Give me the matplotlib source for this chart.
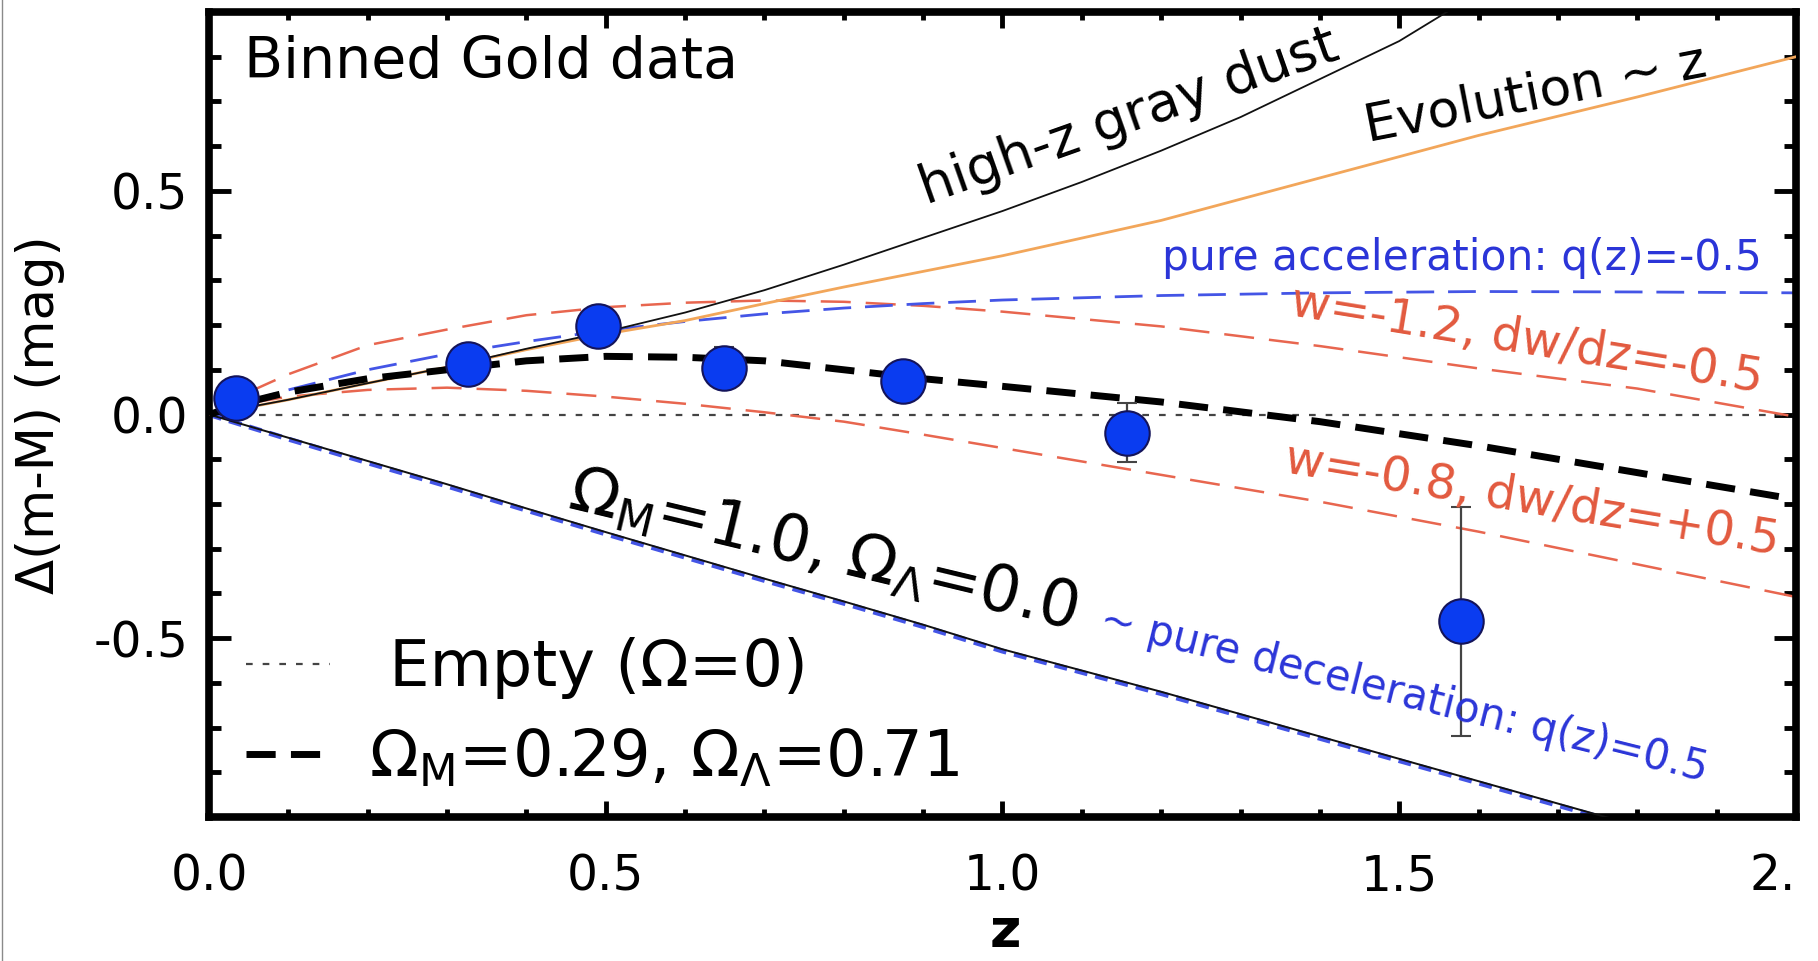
import matplotlib
matplotlib.use('Agg')
import matplotlib.pyplot as plt
from matplotlib.ticker import MultipleLocator, FixedLocator, FixedFormatter
from matplotlib.lines import Line2D

plt.rcParams['font.family'] = ['DejaVu Sans']
plt.rcParams['mathtext.fontset'] = 'dejavusans'

W, H, DPI = 1818, 961, 100

# ---------------- data ----------------
z_bins = [0.034, 0.326, 0.490, 0.649, 0.874, 1.157, 1.578]
dm_bins = [0.037, 0.112, 0.197, 0.105, 0.074, -0.041, -0.462]
dm_err = [0.02, 0.03, 0.03, 0.045, 0.035, 0.066, 0.256]

z_model = [0.0, 0.05, 0.1, 0.2, 0.3, 0.4, 0.5, 0.6, 0.7, 0.8, 0.9, 1.0, 1.2, 1.4, 1.6, 1.8, 2.0]
dm_lcdm = [0.0, 0.028, 0.05, 0.08, 0.10, 0.12, 0.13, 0.128, 0.12, 0.10, 0.08, 0.063, 0.028, -0.016, -0.07, -0.13, -0.19]
dm_accel = [0.0, 0.03, 0.055, 0.10, 0.135, 0.163, 0.188, 0.208, 0.225, 0.238, 0.248, 0.256, 0.266, 0.272, 0.275, 0.274, 0.272]
dm_w12 = [0.0, 0.05, 0.09, 0.155, 0.19, 0.222, 0.24, 0.25, 0.255, 0.252, 0.243, 0.23, 0.197, 0.153, 0.103, 0.058, -0.005]
dm_w08 = [0.0, 0.025, 0.04, 0.055, 0.06, 0.053, 0.04, 0.024, 0.005, -0.016, -0.045, -0.075, -0.135, -0.195, -0.262, -0.335, -0.408]
dm_evol = [0.0, 0.016, 0.033, 0.07, 0.106, 0.145, 0.18, 0.21, 0.248, 0.285, 0.32, 0.355, 0.434, 0.529, 0.624, 0.71, 0.80]

z_empty = [0.0, 2.0]
dm_empty = [0.0, 0.0]

z_dust = [0.0, 0.1, 0.2, 0.3, 0.4, 0.5, 0.6, 0.7, 0.8, 0.9, 1.0, 1.1, 1.2, 1.3, 1.4, 1.5, 1.56, 1.6]
dm_dust = [0.0, 0.033, 0.07, 0.106, 0.147, 0.185, 0.228, 0.278, 0.335, 0.395, 0.455, 0.52, 0.59, 0.665, 0.75, 0.835, 0.9, 0.95]

z_eds = [0.0, 0.1, 0.2, 0.3, 0.4, 0.5, 0.6, 0.7, 0.8, 0.9, 1.0, 1.2, 1.4, 1.6, 1.8]
dm_eds = [0.0, -0.052, -0.104, -0.156, -0.21, -0.263, -0.315, -0.367, -0.418, -0.47, -0.525, -0.62, -0.72, -0.82, -0.92]
dm_decel = [0.0, -0.055, -0.108, -0.16, -0.214, -0.267, -0.319, -0.371, -0.422, -0.474, -0.529, -0.624, -0.724, -0.824, -0.924]

x_ticks = [0.0, 0.5, 1.0, 1.5, 2.0]
x_ticklabels = ['0.0', '0.5', '1.0', '1.5', '2.']
y_ticks = [-0.5, 0.0, 0.5]
y_ticklabels = ['-0.5', '0.0', '0.5']

# ---------------- colours ----------------
BLUE_TXT = '#2b35d8'
BLUE_LN = '#4455e6'
RED = '#e2593e'
RED_LN = '#e8664f'
ORANGE = '#f2a65a'

fig = plt.figure(figsize=(W / DPI, H / DPI), dpi=DPI)
L, R, T, B = 209, 1796, 12, 817
ax = fig.add_axes([L / W, (H - B) / H, (R - L) / W, (B - T) / H])

def fx(px):
    return px / W

def fy(py):
    return 1 - py / H

# models
ax.plot(z_empty, dm_empty, color='#444444', lw=1.6, dashes=(3, 4.5), zorder=2)
ax.plot(z_model, dm_w12, color=RED_LN, lw=1.8, dashes=(12, 6), zorder=2)
ax.plot(z_model, dm_w08, color=RED_LN, lw=1.8, dashes=(12, 6), zorder=2)
ax.plot(z_model, dm_accel, color=BLUE_LN, lw=2.0, dashes=(10, 5), zorder=2)
ax.plot(z_eds, dm_decel, color=BLUE_LN, lw=3.6, dashes=(2.6, 1.6), zorder=2)
ax.plot(z_eds, dm_eds, color='#111111', lw=1.4, zorder=3)
ax.plot(z_model, dm_evol, color=ORANGE, lw=2.0, zorder=3)
ax.plot(z_dust, dm_dust, color='#111111', lw=1.3, zorder=3)
ax.plot(z_model, dm_lcdm, color='black', lw=5, dashes=(4.2, 2.2), zorder=4)

ax.errorbar(z_bins, dm_bins, yerr=dm_err, fmt='o', ms=32, mfc='#0a3cf0', mec='#14145a',
            mew=1.5, ecolor='#444444', elinewidth=1.6, capsize=7, capthick=1.6, zorder=6)

# legend
h_empty = Line2D([], [], color='#444444', lw=1.6, dashes=(3, 4.5))
h_lcdm = Line2D([], [], color='black', lw=5, dashes=(4.2, 2.2))
ax.legend([h_empty, h_lcdm], [' Empty (\u03a9=0)', r'$\Omega_\mathrm{M}$=0.29, $\Omega_\Lambda$=0.71'],
          loc='upper left', bbox_to_anchor=(0.0233, 0.2235), frameon=False, fontsize=46,
          borderpad=0, borderaxespad=0, handlelength=1.31, handletextpad=0.62, labelspacing=0.43)

# axes styling
ax.set_xlim(0.0, 2.0)
ax.set_ylim(-0.9, 0.9)
ax.xaxis.set_major_locator(FixedLocator(x_ticks))
ax.xaxis.set_major_formatter(FixedFormatter(x_ticklabels))
ax.yaxis.set_major_locator(FixedLocator(y_ticks))
ax.yaxis.set_major_formatter(FixedFormatter(y_ticklabels))
ax.xaxis.set_minor_locator(MultipleLocator(0.1))
ax.yaxis.set_minor_locator(MultipleLocator(0.1))
for s in ax.spines.values():
    s.set_linewidth(5.5)
ax.tick_params(which='both', direction='in', top=True, right=True, width=3.5, labelsize=35)
ax.tick_params(axis='y', which='major', length=16, pad=15)
ax.tick_params(axis='y', which='minor', length=8.5)
ax.tick_params(axis='x', which='major', length=11.5, pad=25.5)
ax.tick_params(axis='x', which='minor', length=5.5)
last_tick = ax.xaxis.get_major_ticks()[-1]
last_tick.label1.set_horizontalalignment('right')

ax.set_ylabel('\u0394(m-M) (mag)', fontsize=37)
ax.yaxis.set_label_coords(-0.0905, 0.5)

# annotations
fig.text(fx(244), fy(78), 'Binned Gold data', fontsize=41, ha='left', va='baseline')
fig.text(fx(1129), fy(117), 'high-z gray dust', fontsize=39, rotation=19.5,
         rotation_mode='anchor', ha='center', va='center')
fig.text(fx(1536), fy(95), 'Evolution ~ z', fontsize=37.5, rotation=11,
         rotation_mode='anchor', ha='center', va='center')
fig.text(fx(1462), fy(270), 'pure acceleration: q(z)=-0.5', fontsize=30.5, color=BLUE_TXT,
         ha='center', va='baseline')
fig.text(fx(1527), fy(340), 'w=-1.2, dw/dz=-0.5', fontsize=34.5, color=RED, rotation=-9.3,
         rotation_mode='anchor', ha='center', va='center')
fig.text(fx(1532), fy(500), 'w=-0.8, dw/dz=+0.5', fontsize=34.5, color=RED, rotation=-9.5,
         rotation_mode='anchor', ha='center', va='center')
fig.text(fx(823), fy(551), r'$\Omega_\mathrm{M}$=1.0, $\Omega_\Lambda$=0.0', fontsize=46,
         rotation=-13.5, rotation_mode='anchor', ha='center', va='center')
fig.text(fx(1404), fy(694), '~ pure deceleration: q(z)=0.5', fontsize=30, color=BLUE_TXT,
         rotation=-14, rotation_mode='anchor', ha='center', va='center')
fig.text(fx(1005), fy(947), 'z', fontsize=39, fontweight='bold', ha='center', va='baseline')

fig.add_artist(Line2D([fx(1.5), fx(1.5)], [0, 1], color='#8a8a8a', lw=1.0))

fig.savefig('out.png', dpi=DPI)
